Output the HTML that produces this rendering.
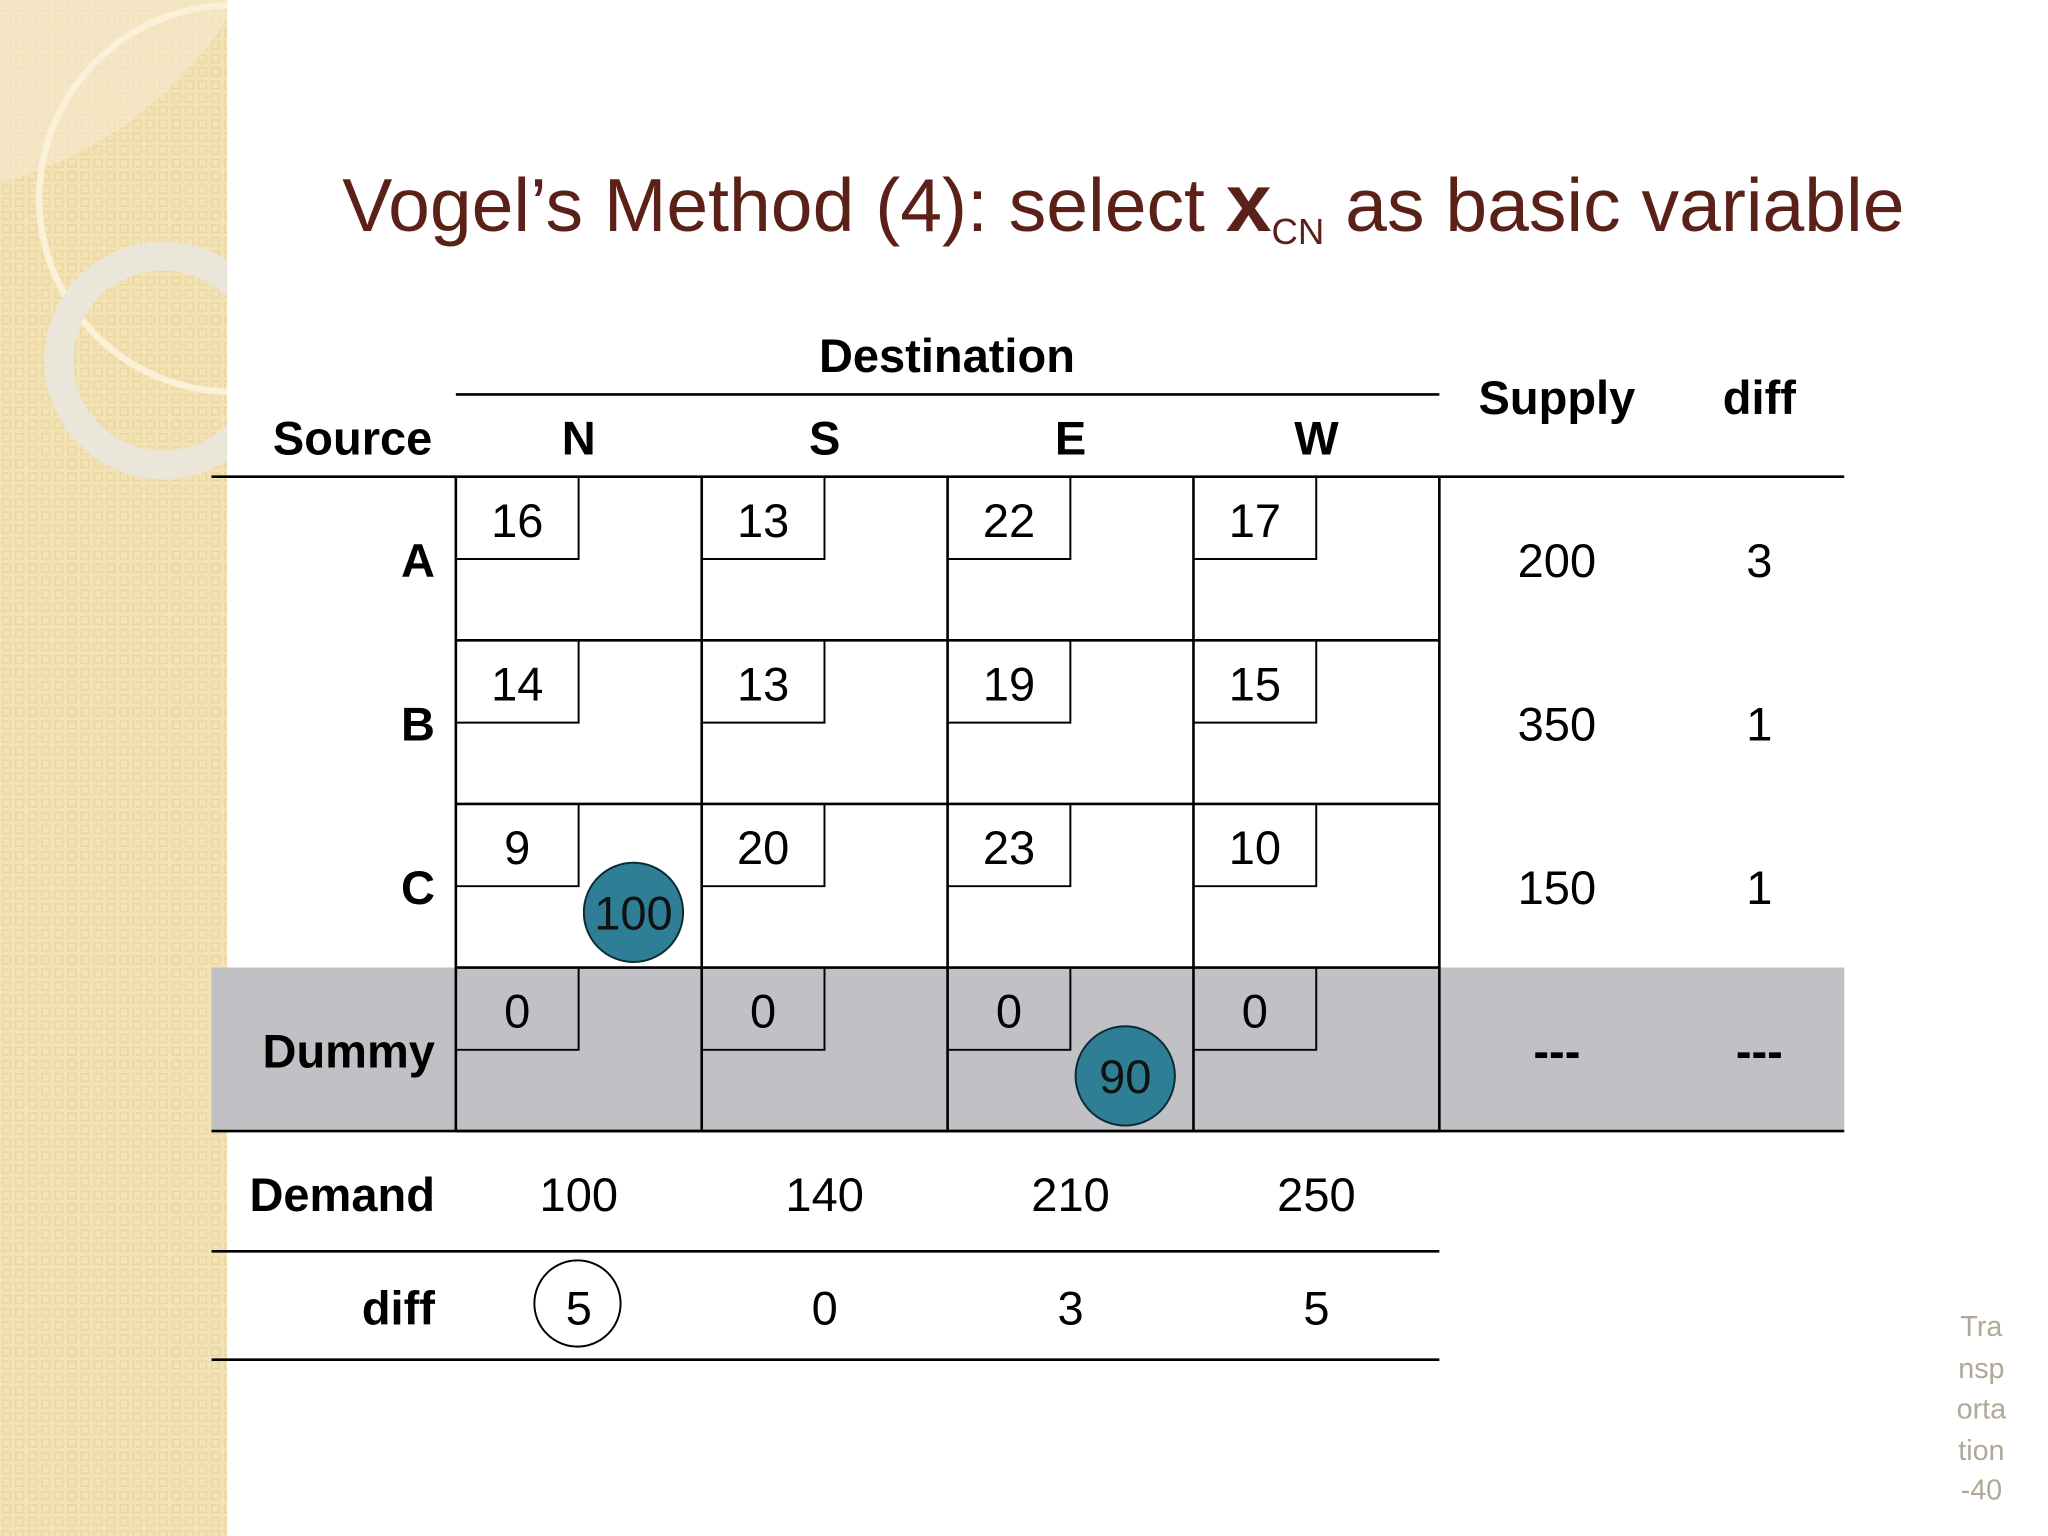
<!DOCTYPE html>
<html><head><meta charset="utf-8">
<style>
html,body{margin:0;padding:0;background:#fff;}
svg{display:block;}
text{font-family:"Liberation Sans",sans-serif;}
</style></head>
<body>
<svg id="slide" width="2048" height="1536" viewBox="0 0 1568 1176" xmlns="http://www.w3.org/2000/svg">
<defs>
<pattern id="pat" width="10" height="10" patternUnits="userSpaceOnUse">
<rect width="10" height="10" fill="#f3e2b4"/>
<rect x="2" y="2" width="6" height="6" fill="none" stroke="#ead59f" stroke-width="1"/>
</pattern>
</defs>
<g>
<rect x="0" y="0" width="174" height="1176" fill="url(#pat)"/>
<path d="M0,0 L183,0 A300,300 0 0 1 0,140 Z" fill="#f6ead0" opacity="0.6"/>
<circle cx="178" cy="152" r="148" fill="none" stroke="#faf1d8" stroke-width="5"/>
<circle cx="125" cy="276" r="80" fill="none" stroke="#ebe6da" stroke-width="22"/>
<rect x="174" y="0" width="1394" height="1176" fill="#fff"/>
</g>
<text x="262" y="177" font-family="Liberation Sans, sans-serif" font-size="57.5" fill="#5b2118">Vogel’s Method (4): select <tspan font-size="63" font-weight="bold">x</tspan><tspan font-size="28" dy="10">CN</tspan><tspan dy="-10"> as basic variable</tspan></text>
<g id="table"></g>
<g fill="#b0a898" font-size="22" text-anchor="middle">
<text x="1517" y="1023">Tra</text><text x="1517" y="1055">nsp</text><text x="1517" y="1086">orta</text><text x="1517" y="1118">tion</text><text x="1517" y="1148">-40</text>
</g>
</svg>
<script>
const sources = ["A","B","C","Dummy"];
const destinations = ["N","S","E","W"];
const costs = [[16,13,22,17],[14,13,19,15],[9,20,23,10],[0,0,0,0]];
const supply = ["200","350","150","---"];
const rowDiff = ["3","1","1","---"];
const demand = [100,140,210,250];
const colDiff = [5,0,3,5];
const allocations = [{r:2,c:0,v:100},{r:3,c:2,v:90}];
const circledColDiff = 0;

const NS="http://www.w3.org/2000/svg";
const g=document.getElementById('table');
function el(tag,attrs,txt){const e=document.createElementNS(NS,tag);for(const k in attrs)e.setAttribute(k,attrs[k]);if(txt!==undefined)e.textContent=txt;g.appendChild(e);return e;}
const x0=349, cw=188.25, y0=365, rh=125.25;
const colX=i=>x0+i*cw, rowY=i=>y0+i*rh;
let d=el('rect',{x:162,y:rowY(3),width:1250,height:rh,fill:'#c1c0c5'});


let t=el('text',{x:725,y:285,'font-size':36,'font-weight':'bold','text-anchor':'middle'},'Destination');


el('line',{x1:349,y1:302,x2:1102,y2:302,stroke:'#000','stroke-width':2});
t=el('text',{x:331,y:348,'font-size':36,'font-weight':'bold','text-anchor':'end'},'Source');


destinations.forEach((n,i)=>{const e=el('text',{x:colX(i)+cw/2,y:348,'font-size':36,'font-weight':'bold','text-anchor':'middle'},n);

});
t=el('text',{x:1192,y:317,'font-size':36,'font-weight':'bold','text-anchor':'middle'},'Supply');


t=el('text',{x:1347,y:317,'font-size':36,'font-weight':'bold','text-anchor':'middle'},'diff');


el('line',{x1:162,y1:365,x2:1412,y2:365,stroke:'#000','stroke-width':2});
sources.forEach((s,r)=>{
 const y=rowY(r);
 const lab=el('text',{x:333,y:y+rh/2+14,'font-size':36,'font-weight':'bold','text-anchor':'end'},s);
 
 
 costs[r].forEach((c,ci)=>{
  const x=colX(ci);
  const b=el('polyline',{points:`${x},${y+63} ${x+94},${y+63} ${x+94},${y}`,fill:'none',stroke:'#000','stroke-width':1.5});
  
  
  const ct=el('text',{x:x+47,y:y+46,'font-size':36,'text-anchor':'middle'},String(c));
  
  
 });
 const sp=el('text',{x:1192,y:y+rh/2+14,'font-size':36,'text-anchor':'middle','font-weight':supply[r]==='---'?'bold':'normal'},supply[r]);
 
 
 const rd=el('text',{x:1347,y:y+rh/2+14,'font-size':36,'text-anchor':'middle','font-weight':rowDiff[r]==='---'?'bold':'normal'},rowDiff[r]);
 
 
 el('line',{x1:349,y1:y+rh,x2:1102,y2:y+rh,stroke:'#000','stroke-width':2});
});
el('line',{x1:162,y1:rowY(4),x2:1412,y2:rowY(4),stroke:'#000','stroke-width':2});
for(let i=0;i<=4;i++) el('line',{x1:colX(i),y1:365,x2:colX(i),y2:rowY(4),stroke:'#000','stroke-width':2});
allocations.forEach(a=>{
 const cx=colX(a.c)+136, cy=rowY(a.r)+83;
 const c=el('circle',{cx:cx,cy:cy,r:38,fill:'#2e7f96',stroke:'#0b2a33','stroke-width':1.5});
 
 
 const tt=el('text',{x:cx,y:cy+13,'font-size':36,'text-anchor':'middle',fill:'#111'},String(a.v));
 
 
});
t=el('text',{x:333,y:927,'font-size':36,'font-weight':'bold','text-anchor':'end'},'Demand');


demand.forEach((v,i)=>{const e=el('text',{x:colX(i)+cw/2,y:927,'font-size':36,'text-anchor':'middle'},String(v));

});
el('line',{x1:162,y1:958,x2:1102,y2:958,stroke:'#000','stroke-width':2});
t=el('text',{x:333,y:1014,'font-size':36,'font-weight':'bold','text-anchor':'end'},'diff');


colDiff.forEach((v,i)=>{
 if(i===circledColDiff){const c=el('circle',{cx:colX(i)+cw/2-1,cy:998,r:33,fill:'none',stroke:'#000','stroke-width':1.5});
 
 }
 const e=el('text',{x:colX(i)+cw/2,y:1014,'font-size':36,'text-anchor':'middle'},String(v));
 
 });
el('line',{x1:162,y1:1041,x2:1102,y2:1041,stroke:'#000','stroke-width':2});
</script>
</body></html>
